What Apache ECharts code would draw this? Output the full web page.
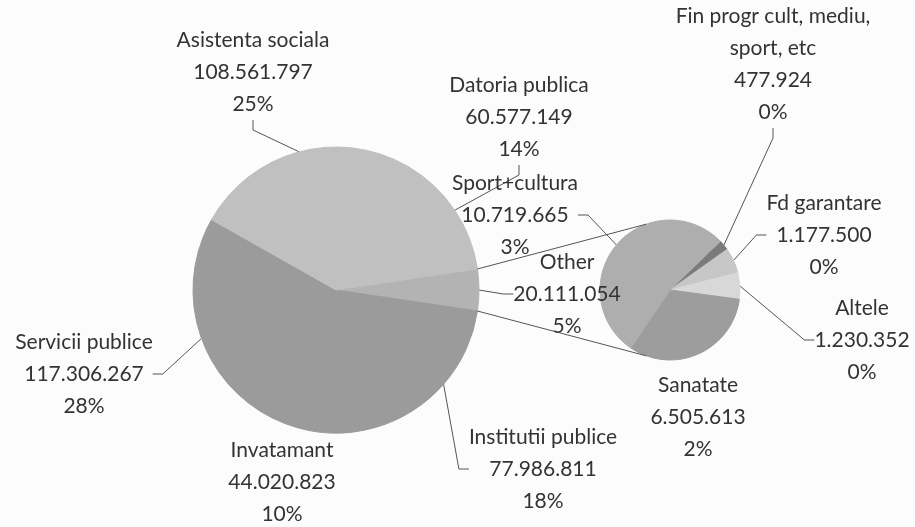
<!DOCTYPE html>
<html>
<head>
<meta charset="utf-8">
<script src="https://cdn.jsdelivr.net/npm/echarts@6/dist/echarts.min.js"></script>
<style>
  html, body { margin: 0; padding: 0; background: #fcfcfc; }
  #chart { width: 915px; height: 527px; }
</style>
</head>
<body>
<div id="chart"></div>
<script>
// main pie (without "Other", which is the sum of the secondary pie)
var mainNames = ['Institutii publice', 'Invatamant', 'Servicii publice', 'Asistenta sociala', 'Datoria publica'];
var mainValues = [77986811, 44020823, 117306267, 108561797, 60577149];

// secondary pie
var subNames = ['Fin progr cult, mediu,\nsport, etc', 'Fd garantare', 'Altele', 'Sanatate', 'Sport+cultura'];
var subValues = [477924, 1177500, 1230352, 6505613, 10719665];

var otherName = 'Other';

// colours (grey scan)
var mainColors = ['#9b9b9b', '#9b9b9b', '#9b9b9b', '#c0c0c0', '#c0c0c0'];
var otherColor = '#b3b3b3';
var subColors = ['#7b7b7b', '#c7c7c7', '#d8d8d8', '#9d9d9d', '#aeaeae'];

// label positions: [center x, top y]
var mainLabelPos = [[567, 246], [543, 421], [282, 434], [84, 326], [253, 24], [519, 69]];
var subLabelPos = [[773, 0], [824, 187], [862, 292], [698, 369], [515, 167]];

var c1 = [336, 290], r1 = 143;
var c2 = [670, 290], r2 = 70;

function fmt(v) {
  return String(v).replace(/\B(?=(\d{3})+(?!\d))/g, '.');
}

var otherValue = subValues.reduce(function (a, b) { return a + b; }, 0);
var grandTotal = mainValues.reduce(function (a, b) { return a + b; }, 0) + otherValue;

var mainData = [{ name: otherName, value: otherValue, itemStyle: { color: otherColor, borderColor: otherColor } }];
for (var i = 0; i < mainNames.length; i++) {
  mainData.push({ name: mainNames[i], value: mainValues[i], itemStyle: { color: mainColors[i], borderColor: mainColors[i] } });
}
var subData = [];
for (var j = 0; j < subNames.length; j++) {
  subData.push({ name: subNames[j], value: subValues[j], itemStyle: { color: subColors[j], borderColor: subColors[j] } });
}
// no leader lines for these two in the original
mainData[2].labelLine = { show: false };
subData[3].labelLine = { show: false };

// Other slice is centred on the right side
var halfOther = 360 * otherValue / grandTotal / 2;
var subStart = 44;

var labelStyle = {
  show: true,
  fontFamily: 'Lato',
  fontSize: 21,
  lineHeight: 32,
  color: '#333',
  align: 'center',
  overflow: 'none'
};
var lineStyle = { show: true, length: 10, length2: 10, lineStyle: { color: '#555', width: 1 } };

var chartDom = document.getElementById('chart');
var myChart = echarts.init(chartDom);

// connector lines between the Other slice and the secondary pie
function pt(c, r, deg) {
  var a = deg * Math.PI / 180;
  return [c[0] + r * Math.cos(a), c[1] - r * Math.sin(a)];
}
var pa = pt(c1, r1, halfOther), pb = pt(c1, r1, -halfOther);
var qa = pt(c2, r2, 110), qb = pt(c2, r2, 250);

var option = {
  backgroundColor: '#fcfcfc',
  animation: false,
  graphic: [
    { type: 'line', z: 100, shape: { x1: pa[0], y1: pa[1], x2: qa[0], y2: qa[1] }, style: { stroke: '#555', lineWidth: 1 } },
    { type: 'line', z: 100, shape: { x1: pb[0], y1: pb[1], x2: qb[0], y2: qb[1] }, style: { stroke: '#555', lineWidth: 1 } }
  ],
  series: [
    {
      type: 'pie',
      center: c1,
      radius: r1,
      startAngle: halfOther,
      clockwise: true,
      percentPrecision: 0,
      itemStyle: { borderWidth: 1 },
      label: Object.assign({}, labelStyle, {
        formatter: function (p) {
          return p.name + '\n' + fmt(p.value) + '\n' + p.percent + '%';
        }
      }),
      labelLine: lineStyle,
      labelLayout: function (p) {
        var pos = mainLabelPos[p.dataIndex];
        return { x: pos[0], y: pos[1], align: 'center', verticalAlign: 'top' };
      },
      emphasis: { disabled: true },
      data: mainData
    },
    {
      type: 'pie',
      center: c2,
      radius: r2,
      startAngle: subStart,
      clockwise: true,
      itemStyle: { borderWidth: 1 },
      label: Object.assign({}, labelStyle, {
        formatter: function (p) {
          return p.name + '\n' + fmt(p.value) + '\n' + Math.round(p.value / grandTotal * 100) + '%';
        }
      }),
      labelLine: lineStyle,
      labelLayout: function (p) {
        var pos = subLabelPos[p.dataIndex];
        return { x: pos[0], y: pos[1], align: 'center', verticalAlign: 'top' };
      },
      emphasis: { disabled: true },
      data: subData
    }
  ]
};

option && myChart.setOption(option);
</script>
</body>
</html>
